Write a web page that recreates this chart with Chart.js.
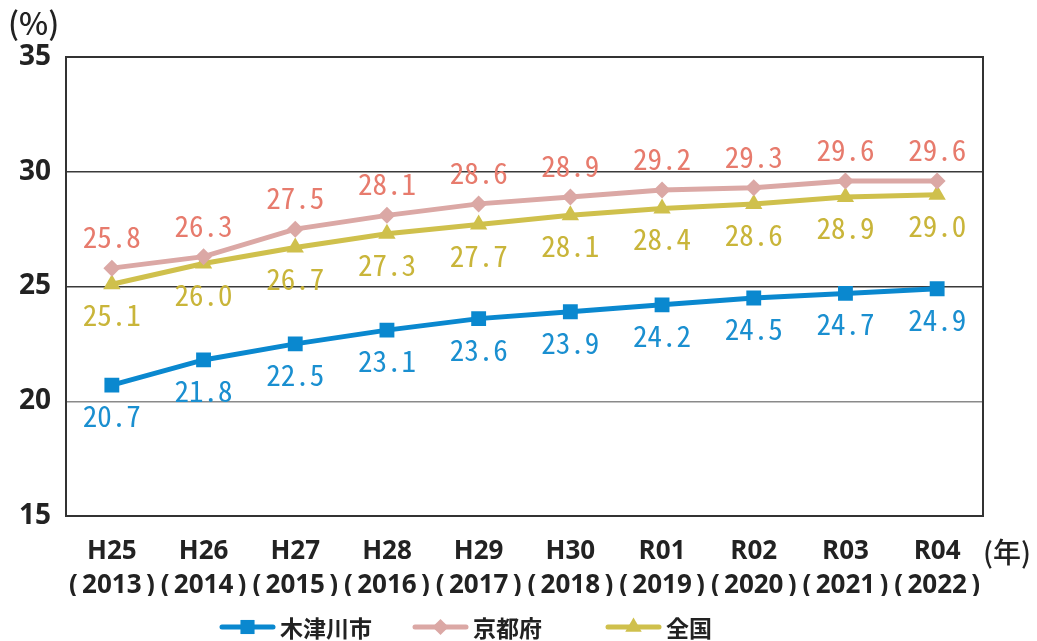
<!DOCTYPE html>
<html lang="ja">
<head>
<meta charset="utf-8">
<script src="https://cdn.jsdelivr.net/npm/chart.js@4/dist/chart.umd.min.js"></script>
<style>
  html, body { margin:0; padding:0; background:#fff; }
  #wrap { width:1037px; height:641px; position:relative; }
</style>
</head>
<body>
<div id="wrap"><canvas id="chart" width="1037" height="641"></canvas></div>
<script>
/* ── DATA ─────────────────────────────────────────────────── */
const eras    = ['H25','H26','H27','H28','H29','H30','R01','R02','R03','R04'];
const years   = ['2013','2014','2015','2016','2017','2018','2019','2020','2021','2022'];
const kizugawa = [20.7, 21.8, 22.5, 23.1, 23.6, 23.9, 24.2, 24.5, 24.7, 24.9];
const kyoto    = [25.8, 26.3, 27.5, 28.1, 28.6, 28.9, 29.2, 29.3, 29.6, 29.6];
const national = [25.1, 26.0, 26.7, 27.3, 27.7, 28.1, 28.4, 28.6, 28.9, 29.0];
const yTicks   = [15, 20, 25, 30, 35];

const NARROW = '"Open Sans", "Noto Sans CJK JP", sans-serif';
const CJK    = '"Noto Sans CJK JP", sans-serif';
const MONO   = '"Noto Sans Mono CJK JP", "DejaVu Sans Mono", monospace';

const series = [
  { label:'木津川市', data:kizugawa, line:'#0a88cf', text:'#1a8fd0', style:'rect',     r:10.5, dy: 31 },
  { label:'京都府',   data:kyoto,    line:'#dba8a5', text:'#e77b6d', style:'rectRot',  r:8.5,  dy:-31 },
  { label:'全国',     data:national, line:'#cfc04c', text:'#c9b53a', style:'triangle', r:10,   dy: 31 },
];

/* ── PLUGINS ──────────────────────────────────────────────── */
// 枠線（上・右も含めて囲む）
const framePlugin = {
  id:'frame',
  afterDraw(chart) {
    const { ctx, chartArea:a } = chart;
    ctx.save();
    ctx.strokeStyle = '#333';
    ctx.lineWidth = 2;
    ctx.strokeRect(a.left, a.top, a.right - a.left, a.bottom - a.top);
    ctx.restore();
  },
};

// データラベル
const labelPlugin = {
  id:'valueLabels',
  afterDatasetsDraw(chart) {
    const ctx = chart.ctx;
    ctx.save();
    ctx.font = '29px ' + MONO;
    ctx.textAlign = 'center';
    ctx.textBaseline = 'middle';
    chart.data.datasets.forEach((ds, i) => {
      const s = series[i];
      ctx.fillStyle = s.text;
      chart.getDatasetMeta(i).data.forEach((pt, j) => {
        ctx.fillText(ds.data[j].toFixed(1), pt.x, pt.y + s.dy);
      });
    });
    ctx.restore();
  },
};

// 凡例・単位
const legendPlugin = {
  id:'customLegend',
  afterDraw(chart) {
    const ctx = chart.ctx;
    const y = 627;
    const starts = [222, 415, 608];
    ctx.save();
    series.forEach((s, i) => {
      const x = starts[i];
      ctx.strokeStyle = s.line;
      ctx.lineWidth = 5;
      ctx.lineCap = 'round';
      ctx.beginPath(); ctx.moveTo(x, y); ctx.lineTo(x + 51, y); ctx.stroke();
      ctx.fillStyle = s.line;
      Chart.helpers.drawPoint(ctx, { pointStyle:s.style, radius:s.r * 0.95, borderWidth:0 }, x + 25.5, y);
      ctx.fillStyle = '#222';
      ctx.font = 'bold 23px ' + CJK;
      ctx.textAlign = 'left';
      ctx.textBaseline = 'middle';
      ctx.fillText(s.label, x + 58, y + 1);
    });
    ctx.font = '500 31px ' + CJK;
    ctx.textAlign = 'left';
    ctx.fillText('(%)', 8, 23);
    ctx.font = '500 28px ' + CJK;
    ctx.fillText('(年)', 983, 552);
    ctx.restore();
  },
};

/* ── CHART ────────────────────────────────────────────────── */
new Chart(document.getElementById('chart'), {
  type:'line',
  data:{
    labels: eras.map((e, i) => [e, '(\u2009' + years[i] + '\u2009)']),
    datasets: series.map(s => ({
      label:s.label, data:s.data,
      borderColor:s.line, backgroundColor:s.line,
      borderWidth:5, tension:0,
      pointStyle:s.style, pointRadius:s.r, pointHoverRadius:s.r,
      pointBackgroundColor:s.line, pointBorderColor:s.line, pointBorderWidth:0,
    })),
  },
  options:{
    responsive:false,
    animation:false,
    layout:{ padding:{ left:0, right:54, top:57, bottom:45 } },
    plugins:{ legend:{ display:false }, tooltip:{ enabled:false } },
    scales:{
      x:{
        offset:true,
        grid:{ display:false },
        border:{ display:false },
        ticks:{ color:'#222', font:{ family:NARROW, style:'condensed', size:26, weight:'bold', lineHeight:1.3 }, padding:11, maxRotation:0, autoSkip:false },
        afterFit: s => { s.height = 80; },
      },
      y:{
        min:15, max:35,
        afterBuildTicks: s => { s.ticks = yTicks.map(v => ({ value:v })); },
        grid:{ drawTicks:false, lineWidth:1.5, color: c => c.tick && c.tick.value === 20 ? '#8a8a8a' : '#3a3a3a' },
        border:{ display:false },
        ticks:{ color:'#222', font:{ family:NARROW, style:'condensed', size:28, weight:'bold' }, padding:15 },
        afterFit: s => { s.width = 66; },
      },
    },
  },
  plugins:[framePlugin, labelPlugin, legendPlugin],
});
</script>
</body>
</html>
